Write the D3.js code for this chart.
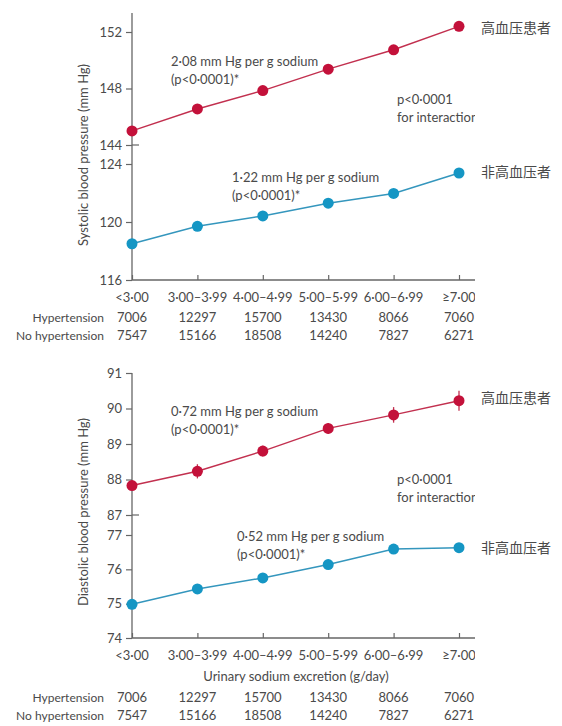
<!DOCTYPE html>
<html>
<head>
<meta charset="utf-8">
<script src="https://cdn.jsdelivr.net/npm/d3@7"></script>
<style>
body{margin:0;background:#fff;}
svg text{font-family:Lato,"Open Sans",sans-serif;fill:#4a4a4a;}
</style>
</head>
<body>
<svg id="box" width="562" height="726"></svg>
<script>
// data
let categories=["<3·00","3·00–3·99","4·00–4·99","5·00–5·99","6·00–6·99","≥7·00"];
let nHyp=[7006,12297,15700,13430,8066,7060];
let nNoHyp=[7547,15166,18508,14240,7827,6271];
let sbpHyp=[145.0,146.55,147.85,149.37,150.74,152.4];
let sbpHypErr=[0.15,0.2,0.2,0.25,0.3,0.35];
let sbpNoHyp=[118.5,119.7,120.42,121.3,121.97,123.38];
let dbpHyp=[87.83,88.23,88.8,89.44,89.82,90.22];
let dbpHypErr=[0.12,0.2,0.15,0.15,0.22,0.28];
let dbpNoHyp=[74.98,75.43,75.75,76.14,76.59,76.63];
let sbpUpTicks=[144,148,152],sbpLoTicks=[116,120,124];
let dbpUpTicks=[87,88,89,90,91],dbpLoTicks=[74,75,76,77];

let red="#c3113a",redLine="#c2304f",blue="#1596c4",blueLine="#3496bd";
let box=d3.select("#box");
box.append("defs").append("clipPath").attr("id","cut").append("rect").attr("x",0).attr("y",0).attr("width",475).attr("height",726);
let g=box.append("g").attr("clip-path","url(#cut)");

let x0=132;
let xScale=d3.scalePoint().domain(categories).range([132,459]);

let panels=[
 {top:13,axisY:280,
  up:{dom:[144,152],rng:[145,32],ticks:sbpUpTicks,vals:sbpHyp,err:sbpHypErr},
  lo:{dom:[116,124],rng:[280,164],ticks:sbpLoTicks,vals:sbpNoHyp},
  title:"Systolic blood pressure (mm Hg)",titleY:155,
  ann:[{x:171,y:66,t:["2·08 mm Hg per g sodium","(p<0·0001)*"]},{x:397,y:104,t:["p<0·0001","for interaction"]},{x:232,y:182,t:["1·22 mm Hg per g sodium","(p<0·0001)*"]}],
  cn:[{y:33,t:"高血压患者"},{y:177,t:"非高血压者"}],
  catY:302,rowY:[322,340],xTitle:null},
 {top:373,axisY:638,
  up:{dom:[87,91],rng:[515,373],ticks:dbpUpTicks,vals:dbpHyp,err:dbpHypErr},
  lo:{dom:[74,77],rng:[638,535],ticks:dbpLoTicks,vals:dbpNoHyp},
  title:"Diastolic blood pressure (mm Hg)",titleY:512,
  ann:[{x:171,y:416,t:["0·72 mm Hg per g sodium","(p<0·0001)*"]},{x:397,y:484,t:["p<0·0001","for interaction"]},{x:237,y:541,t:["0·52 mm Hg per g sodium","(p<0·0001)*"]}],
  cn:[{y:403,t:"高血压患者"},{y:553,t:"非高血压者"}],
  catY:660,rowY:[702,720],xTitle:{y:681,t:"Urinary sodium excretion (g/day)"}}
];

panels.forEach(p=>{
  // vertical axis line
  g.append("line").attr("x1",x0).attr("x2",x0).attr("y1",p.top).attr("y2",p.axisY).attr("stroke","#666").attr("stroke-width",1.3);
  // x axis
  g.append("line").attr("x1",x0).attr("x2",476).attr("y1",p.axisY).attr("y2",p.axisY).attr("stroke","#666").attr("stroke-width",1.3);
  let xa=g.append("g").attr("transform","translate(0,"+p.axisY+")")
    .call(d3.axisTop(xScale).tickSize(5).tickFormat(""));
  xa.select(".domain").remove();
  xa.selectAll("line").attr("stroke","#666").attr("stroke-width",1.2);

  [p.up,p.lo].forEach((s,k)=>{
    let y=d3.scaleLinear().domain(s.dom).range(s.rng);
    let ya=g.append("g").attr("transform","translate("+x0+",0)")
      .call(d3.axisLeft(y).tickValues(s.ticks).tickFormat(d3.format("d")).tickSize(6).tickPadding(4));
    ya.select(".domain").remove();
    ya.selectAll("line").attr("stroke","#666").attr("stroke-width",1.2);
    ya.selectAll("text").style("font-size","13px").style("font-family","Lato").attr("fill","#555");
    // break mark at bottom of upper segment
    if(k==0){
      g.append("line").attr("x1",x0).attr("x2",x0+7).attr("y1",y(s.dom[0])).attr("y2",y(s.dom[0])).attr("stroke","#666").attr("stroke-width",1.2);
    }
    let col=k==0?red:blue, lc=k==0?redLine:blueLine;
    let line=d3.line().x((d,i)=>xScale(categories[i])).y(d=>y(d));
    g.append("path").datum(s.vals).attr("d",line).attr("fill","none").attr("stroke",lc).attr("stroke-width",1.5);
    if(s.err){
      g.selectAll(null).data(s.vals).enter().append("line")
        .attr("x1",(d,i)=>xScale(categories[i])).attr("x2",(d,i)=>xScale(categories[i]))
        .attr("y1",(d,i)=>y(d-s.err[i])).attr("y2",(d,i)=>y(d+s.err[i]))
        .attr("stroke",lc).attr("stroke-width",1.3);
    }
    g.selectAll(null).data(s.vals).enter().append("circle")
      .attr("cx",(d,i)=>xScale(categories[i])).attr("cy",d=>y(d)).attr("r",5.5).attr("fill",col);
  });

  // y title
  box.append("text").attr("transform","translate(88,"+p.titleY+") rotate(-90)")
    .attr("text-anchor","middle").style("font-size","13px").text(p.title);

  // annotations
  p.ann.forEach(a=>{
    a.t.forEach((t,i)=>{
      g.append("text").attr("x",a.x).attr("y",a.y+i*18).style("font-size","13px").text(t);
    });
  });
  p.cn.forEach(c=>{
    box.append("text").attr("x",481).attr("y",c.y).style("font-family","'Noto Sans CJK SC'").style("font-size","14px").attr("fill","#333").text(c.t);
  });

  // category labels
  g.selectAll(null).data(categories).enter().append("text")
    .attr("x",d=>xScale(d)).attr("y",p.catY).attr("text-anchor","middle").style("font-size","13px").text(d=>d);
  if(p.xTitle){
    g.append("text").attr("x",296).attr("y",p.xTitle.y).attr("text-anchor","middle").style("font-size","13px").text(p.xTitle.t);
  }
  // count rows
  [["Hypertension",nHyp],["No hypertension",nNoHyp]].forEach((r,j)=>{
    g.append("text").attr("x",104).attr("y",p.rowY[j]).attr("text-anchor","end").style("font-size","12px").text(r[0]);
    g.selectAll(null).data(r[1]).enter().append("text")
      .attr("x",(d,i)=>xScale(categories[i])).attr("y",p.rowY[j]).attr("text-anchor","middle").style("font-size","13px").text(d=>d);
  });
});
</script>
</body>
</html>
